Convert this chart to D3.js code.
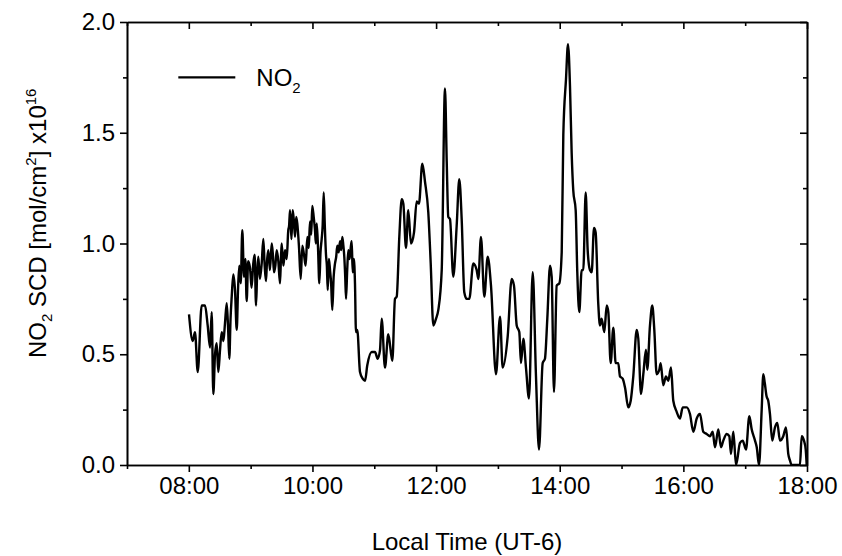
<!DOCTYPE html>
<html>
<head>
<meta charset="utf-8">
<script src="https://cdn.jsdelivr.net/npm/d3@7/dist/d3.min.js"></script>
<style>
  body { margin: 0; background: #fff; }
  text { font-family: "Liberation Sans", Arial, sans-serif; fill: #000; }
</style>
</head>
<body>
<svg id="chart" width="842" height="556"></svg>
<script>
// local time, decimal hours
const hours = [
  8.003, 8.063, 8.100, 8.144, 8.208, 8.262, 8.305, 8.343, 8.370, 8.396,
  8.424, 8.451, 8.477, 8.505, 8.532, 8.560, 8.585, 8.613, 8.635, 8.655,
  8.675, 8.694, 8.720, 8.747, 8.775, 8.797, 8.817, 8.840, 8.865, 8.893,
  8.915, 8.936, 8.960, 8.990, 9.015, 9.043, 9.065, 9.087, 9.105, 9.124,
  9.150, 9.179, 9.205, 9.227, 9.248, 9.265, 9.286, 9.312, 9.341, 9.360,
  9.378, 9.400, 9.422, 9.448, 9.475, 9.490, 9.502, 9.530, 9.556, 9.583,
  9.609, 9.622, 9.637, 9.660, 9.680, 9.700, 9.718, 9.737, 9.755, 9.783,
  9.810, 9.836, 9.863, 9.890, 9.917, 9.940, 9.960, 9.980, 9.997, 10.020,
  10.041, 10.055, 10.069, 10.090, 10.111, 10.130, 10.149, 10.165, 10.182, 10.200,
  10.219, 10.233, 10.247, 10.266, 10.284, 10.302, 10.321, 10.343, 10.365, 10.384,
  10.402, 10.424, 10.446, 10.465, 10.483, 10.500, 10.515, 10.530, 10.543, 10.562,
  10.580, 10.600, 10.619, 10.635, 10.651, 10.670, 10.688,
  10.704, 10.725, 10.769,
  10.813, 10.850, 10.887, 10.958, 11.012, 11.055, 11.093, 11.120, 11.173, 11.227,
  11.292, 11.335, 11.363, 11.405, 11.444, 11.470, 11.513, 11.550, 11.594, 11.643,
  11.686, 11.723, 11.777, 11.820, 11.874, 11.913, 11.955, 11.998, 12.036, 12.091,
  12.144, 12.172, 12.197, 12.225, 12.278, 12.333, 12.375, 12.414, 12.456, 12.495,
  12.537, 12.602, 12.657, 12.683, 12.726, 12.780, 12.835, 12.888, 12.969, 13.034,
  13.077, 13.158, 13.223, 13.260, 13.304, 13.346, 13.373, 13.411, 13.454, 13.503,
  13.563, 13.616, 13.665, 13.724, 13.761, 13.799, 13.843, 13.870, 13.907, 13.951,
  13.993, 14.032, 14.058, 14.101, 14.134, 14.166, 14.193, 14.219, 14.258, 14.284,
  14.316, 14.355, 14.381, 14.420, 14.452, 14.489, 14.517, 14.554, 14.581, 14.623,
  14.651, 14.678, 14.721, 14.760, 14.786, 14.824, 14.867, 14.905, 14.947, 14.975,
  15.018, 15.056, 15.109, 15.148, 15.190, 15.245, 15.271, 15.315, 15.352, 15.395,
  15.416, 15.460, 15.497, 15.530, 15.568, 15.611, 15.633, 15.675, 15.719, 15.756,
  15.800, 15.837, 15.892, 15.945, 15.989, 16.054, 16.107, 16.161, 16.216, 16.269,
  16.322, 16.377, 16.431, 16.474, 16.512, 16.565, 16.609, 16.646, 16.701, 16.743,
  16.770, 16.808, 16.852, 16.916, 16.960, 17.013, 17.067, 17.106, 17.159, 17.187,
  17.224, 17.267, 17.293, 17.317, 17.346, 17.373, 17.401, 17.438, 17.482, 17.519,
  17.563, 17.616, 17.660, 17.697, 17.725, 17.752, 17.886, 17.914, 17.951, 17.979,
  17.995
];

// NO2 slant column density, x1e16 mol/cm2
const scd = [
  0.68, 0.56, 0.60, 0.42, 0.72, 0.72, 0.63, 0.53, 0.69, 0.32,
  0.50, 0.55, 0.42, 0.52, 0.60, 0.56, 0.64, 0.73, 0.62, 0.48,
  0.66, 0.76, 0.86, 0.79, 0.61, 0.80, 0.90, 0.82, 1.06, 0.85,
  0.93, 0.74, 0.92, 0.89, 0.80, 0.91, 0.95, 0.72, 0.86, 0.94,
  0.84, 0.91, 1.02, 0.90, 0.83, 0.92, 0.97, 0.88, 1.00, 0.95,
  0.87, 0.90, 0.97, 0.92, 0.82, 0.93, 1.00, 0.90, 0.97, 0.93,
  1.06, 1.08, 1.15, 1.02, 1.15, 1.10, 1.03, 1.12, 1.09, 0.98,
  0.84, 0.99, 0.95, 0.90, 1.03, 0.98, 1.10, 1.04, 1.17, 1.12,
  1.06, 1.00, 1.09, 0.98, 0.82, 0.96, 1.02, 1.08, 1.23, 1.08,
  0.95, 0.90, 0.79, 0.93, 0.88, 0.82, 0.70, 0.85, 0.91, 0.94,
  0.99, 0.96, 1.01, 0.97, 1.03, 0.99, 0.94, 0.85, 0.75, 0.88,
  0.97, 0.93, 0.98, 1.01, 0.87, 0.93, 0.82,
  0.60, 0.61, 0.42,
  0.39, 0.38, 0.45, 0.51, 0.51, 0.48, 0.52, 0.66, 0.44, 0.59,
  0.47, 0.75, 0.76, 1.03, 1.20, 1.18, 0.98, 1.15, 1.00, 1.05,
  1.19, 1.18, 1.36, 1.28, 1.14, 0.91, 0.63, 0.66, 0.70, 0.88,
  1.70, 1.37, 1.12, 1.11, 0.85, 1.08, 1.29, 1.11, 0.78, 0.75,
  0.75, 0.91, 0.88, 0.84, 1.03, 0.76, 0.94, 0.81, 0.41, 0.67,
  0.44, 0.58, 0.84, 0.81, 0.63, 0.60, 0.46, 0.57, 0.44, 0.30,
  0.87, 0.40, 0.07, 0.46, 0.48, 0.66, 0.90, 0.85, 0.33, 0.81,
  0.82, 0.96, 1.49, 1.74, 1.90, 1.71, 1.41, 1.24, 1.15, 0.87,
  0.69, 0.88, 0.88, 1.23, 0.97, 0.88, 0.87, 1.07, 1.05, 0.73,
  0.63, 0.66, 0.60, 0.72, 0.69, 0.46, 0.62, 0.46, 0.46, 0.40,
  0.39, 0.35, 0.26, 0.29, 0.40, 0.61, 0.57, 0.32, 0.41, 0.52,
  0.43, 0.63, 0.72, 0.61, 0.41, 0.43, 0.46, 0.36, 0.40, 0.38,
  0.44, 0.29, 0.24, 0.21, 0.26, 0.26, 0.23, 0.15, 0.21, 0.23,
  0.15, 0.14, 0.13, 0.15, 0.08, 0.16, 0.08, 0.11, 0.14, 0.13,
  0.05, 0.15, 0.00, 0.10, 0.11, 0.07, 0.22, 0.16, 0.11, 0.08,
  0.00, 0.25, 0.41, 0.37, 0.31, 0.29, 0.23, 0.11, 0.17, 0.19,
  0.11, 0.13, 0.17, 0.05, 0.02, 0.00, 0.00, 0.13, 0.11, 0.07,
  0.00
];

const xMajor = [8, 10, 12, 14, 16, 18];
const xMinor = [7, 9, 11, 13, 15, 17];
const yMajor = [0, 0.5, 1.0, 1.5, 2.0];
const yMinor = [0.25, 0.75, 1.25, 1.75];

const margin = {top: 22, right: 35, bottom: 91, left: 127};
const width = 842, height = 556;
const plotW = width - margin.left - margin.right;
const plotH = height - margin.top - margin.bottom;
const fontSize = 24, smallSize = 15;

const svg = d3.select("#chart");
const g = svg.append("g").attr("transform", `translate(${margin.left},${margin.top})`);

const x = d3.scaleLinear().domain([7, 18]).range([0, plotW]);
const y = d3.scaleLinear().domain([0, 2]).range([plotH, 0]);

const fmtTime = h => d3.format("02")(h) + ":00";

g.append("clipPath").attr("id", "clip")
  .append("rect").attr("width", plotW).attr("height", plotH);

// the series
const line = d3.line().curve(d3.curveMonotoneX).x(d => x(d[0])).y(d => y(d[1]));
g.append("path")
  .datum(d3.zip(hours, scd))
  .attr("clip-path", "url(#clip)")
  .attr("fill", "none")
  .attr("stroke", "#000")
  .attr("stroke-width", 2.4)
  .attr("stroke-linejoin", "round")
  .attr("d", line);

function styleAxis(sel) {
  sel.selectAll("path, line").attr("stroke", "#000").attr("stroke-width", 1.6);
  sel.selectAll("text").attr("font-size", fontSize).attr("font-family", "Liberation Sans, Arial, sans-serif");
}

// bottom axis
g.append("g").attr("transform", `translate(0,${plotH})`)
  .call(d3.axisBottom(x).tickValues(xMajor).tickFormat(fmtTime).tickSize(7).tickPadding(5).tickSizeOuter(0))
  .call(styleAxis);
g.append("g").attr("transform", `translate(0,${plotH})`)
  .call(d3.axisBottom(x).tickValues(xMinor).tickFormat("").tickSize(4).tickSizeOuter(0))
  .call(styleAxis);

// top axis, ticks inside
g.append("g")
  .call(d3.axisTop(x).tickValues(xMajor).tickFormat("").tickSize(-7).tickSizeOuter(0))
  .call(styleAxis);
g.append("g")
  .call(d3.axisTop(x).tickValues(xMinor).tickFormat("").tickSize(-4).tickSizeOuter(0))
  .call(styleAxis);

// left axis
g.append("g")
  .call(d3.axisLeft(y).tickValues(yMajor).tickFormat(d3.format(".1f")).tickSize(7).tickPadding(5).tickSizeOuter(0))
  .call(styleAxis);
g.append("g")
  .call(d3.axisLeft(y).tickValues(yMinor).tickFormat("").tickSize(4).tickSizeOuter(0))
  .call(styleAxis);

// right axis, ticks inside
g.append("g").attr("transform", `translate(${plotW},0)`)
  .call(d3.axisRight(y).tickValues(yMajor).tickFormat("").tickSize(-7).tickSizeOuter(0))
  .call(styleAxis);
g.append("g").attr("transform", `translate(${plotW},0)`)
  .call(d3.axisRight(y).tickValues(yMinor).tickFormat("").tickSize(-4).tickSizeOuter(0))
  .call(styleAxis);

// axis titles
svg.append("text")
  .attr("x", margin.left + plotW / 2)
  .attr("y", 550)
  .attr("text-anchor", "middle")
  .attr("font-size", fontSize)
  .text("Local Time (UT-6)");

const yTitle = svg.append("text")
  .attr("transform", `translate(46,358) rotate(-90)`)
  .attr("font-size", fontSize);
yTitle.append("tspan").text("NO");
yTitle.append("tspan").attr("font-size", smallSize).attr("dy", 6).text("2");
yTitle.append("tspan").attr("dy", -6).text(" SCD [mol/cm");
yTitle.append("tspan").attr("font-size", smallSize).attr("dy", -10).text("2");
yTitle.append("tspan").attr("dy", 10).text("] x10");
yTitle.append("tspan").attr("font-size", smallSize).attr("dy", -10).text("16");

// legend
const legend = g.append("g").attr("transform", `translate(${x(7.83)},${y(1.75)})`);
legend.append("line")
  .attr("x1", 0).attr("x2", 57)
  .attr("stroke", "#000").attr("stroke-width", 2.4);
const lt = legend.append("text").attr("x", 78).attr("y", 9).attr("font-size", fontSize);
lt.append("tspan").text("NO");
lt.append("tspan").attr("font-size", smallSize).attr("dy", 7).text("2");
</script>
</body>
</html>
